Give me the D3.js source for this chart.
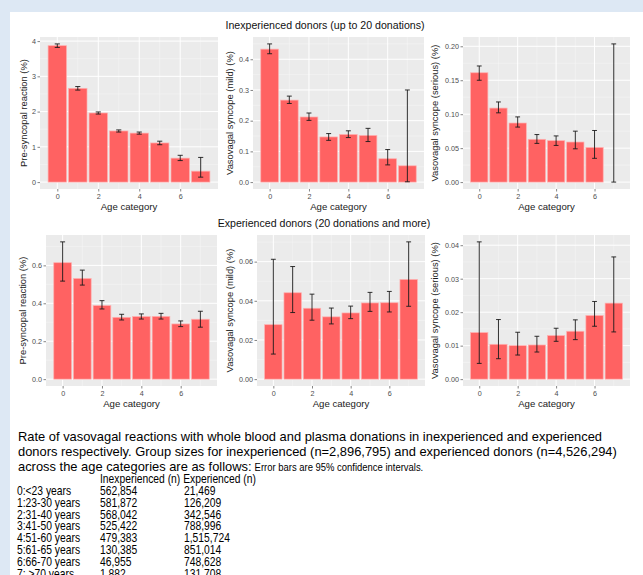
<!DOCTYPE html>
<html>
<head>
<meta charset="utf-8">
<script src="https://cdn.jsdelivr.net/npm/d3@7"></script>
<style>
  html, body { margin: 0; padding: 0; background: #dde8f4; }
  svg { display: block; }
</style>
</head>
<body>
<svg id="fig" width="643" height="575"></svg>
<script>
// Age categories (0 = <23 years ... 7 = >70 years) and axis ticks
const ageCategories = [0, 1, 2, 3, 4, 5, 6, 7];
const xTickValues = [0, 2, 4, 6];

// Inexperienced donors: rate (%) with 95% CI bounds
const inexpPreRate = [3.87, 2.66, 1.96, 1.45, 1.39, 1.11, 0.68, 0.31];
const inexpPreLow  = [3.82, 2.61, 1.93, 1.42, 1.36, 1.06, 0.61, 0.14];
const inexpPreHigh = [3.92, 2.71, 1.99, 1.48, 1.42, 1.16, 0.76, 0.70];

const inexpMildRate = [0.433, 0.267, 0.212, 0.147, 0.155, 0.152, 0.076, 0.053];
const inexpMildLow  = [0.418, 0.256, 0.201, 0.136, 0.145, 0.132, 0.056, 0.001];
const inexpMildHigh = [0.450, 0.280, 0.225, 0.158, 0.167, 0.175, 0.106, 0.300];

const inexpSeriousRate = [0.161, 0.109, 0.087, 0.063, 0.061, 0.059, 0.051, 0.000];
const inexpSeriousLow  = [0.150, 0.102, 0.081, 0.057, 0.054, 0.049, 0.035, 0.000];
const inexpSeriousHigh = [0.171, 0.118, 0.096, 0.070, 0.068, 0.075, 0.076, 0.2035];

// Experienced donors: rate (%) with 95% CI bounds
const expPreRate = [0.614, 0.531, 0.388, 0.326, 0.330, 0.331, 0.291, 0.316];
const expPreLow  = [0.517, 0.496, 0.370, 0.312, 0.317, 0.317, 0.277, 0.274];
const expPreHigh = [0.724, 0.575, 0.414, 0.342, 0.344, 0.347, 0.307, 0.358];

const expMildRate = [0.0278, 0.0441, 0.0362, 0.0318, 0.0338, 0.0389, 0.0390, 0.0509];
const expMildLow  = [0.0128, 0.0340, 0.0301, 0.0282, 0.0309, 0.0346, 0.0343, 0.0372];
const expMildHigh = [0.0612, 0.0575, 0.0434, 0.0363, 0.0373, 0.0443, 0.0448, 0.0701];

const expSeriousRate = [0.0139, 0.0104, 0.0100, 0.0102, 0.0130, 0.0143, 0.0190, 0.0227];
const expSeriousLow  = [0.0047, 0.0061, 0.0072, 0.0081, 0.0113, 0.0118, 0.0158, 0.0141];
const expSeriousHigh = [0.0410, 0.0178, 0.0140, 0.0128, 0.0152, 0.0177, 0.0232, 0.0365];

// Y tick labels per panel
const preInexpTicks = ["0", "1", "2", "3", "4"];
const mildInexpTicks = ["0.0", "0.1", "0.2", "0.3", "0.4"];
const seriousInexpTicks = ["0.00", "0.05", "0.10", "0.15", "0.20"];
const preExpTicks = ["0.0", "0.2", "0.4", "0.6"];
const mildExpTicks = ["0.00", "0.02", "0.04", "0.06"];
const seriousExpTicks = ["0.00", "0.01", "0.02", "0.03", "0.04"];

// Caption and group sizes table
const captionLines = [
  "Rate of vasovagal reactions with whole blood and plasma donations in inexperienced and experienced",
  "donors respectively. Group sizes for inexperienced (n=2,896,795) and experienced donors (n=4,526,294)",
  "across the age categories are as follows:"
];
const captionNote = "Error bars are 95% confidence intervals.";
const tableHeader = ["Inexperienced (n)", "Experienced (n)"];
const ageLabels = ["0:<23 years", "1:23-30 years", "2:31-40 years", "3:41-50 years",
                   "4:51-60 years", "5:61-65 years", "6:66-70 years", "7: >70 years"];
const inexpCounts = ["562,854", "581,872", "568,042", "525,422", "479,383", "130,385", "46,955", "1,882"];
const expCounts = ["21,469", "126,209", "342,546", "788,996", "1,515,724", "851,014", "748,628", "131,708"];

const svg = d3.select("#fig");
const sans = "'Liberation Sans', Arial, sans-serif";
const condense = 0.86; // horizontal squeeze for the narrow table type

// white page
svg.append("rect").attr("x", 10).attr("y", 12).attr("width", 633).attr("height", 563).attr("fill", "#ffffff");

const panels = [
  { x0: 40,  x1: 218, y0: 37,  y1: 189, rate: inexpPreRate, lo: inexpPreLow, hi: inexpPreHigh, ticks: preInexpTicks, title: "Pre-syncopal reaction (%)", titleX: 24 },
  { x0: 253, x1: 424, y0: 37,  y1: 189, rate: inexpMildRate, lo: inexpMildLow, hi: inexpMildHigh, ticks: mildInexpTicks, title: "Vasovagal syncope (mild) (%)", titleX: 230 },
  { x0: 463, x1: 630, y0: 37,  y1: 189, rate: inexpSeriousRate, lo: inexpSeriousLow, hi: inexpSeriousHigh, ticks: seriousInexpTicks, title: "Vasovagal syncope (serious) (%)", titleX: 435 },
  { x0: 46,  x1: 217, y0: 235, y1: 386, rate: expPreRate, lo: expPreLow, hi: expPreHigh, ticks: preExpTicks, title: "Pre-syncopal reaction (%)", titleX: 23 },
  { x0: 257, x1: 425, y0: 235, y1: 386, rate: expMildRate, lo: expMildLow, hi: expMildHigh, ticks: mildExpTicks, title: "Vasovagal syncope (mild) (%)", titleX: 230 },
  { x0: 463, x1: 630, y0: 235, y1: 386, rate: expSeriousRate, lo: expSeriousLow, hi: expSeriousHigh, ticks: seriousExpTicks, title: "Vasovagal syncope (serious) (%)", titleX: 435 }
];

function drawPanel(p) {
  const g = svg.append("g");
  const barW = 0.9, capW = 0.25;
  // continuous x with 5% expansion around the bar extents
  const xmin = -barW / 2, xmax = 7 + barW / 2, xpad = (xmax - xmin) * 0.05;
  const x = d3.scaleLinear().domain([xmin - xpad, xmax + xpad]).range([p.x0, p.x1]);
  const ymax = d3.max(p.hi), ymin = 0, ypad = (ymax - ymin) * 0.05;
  const y = d3.scaleLinear().domain([ymin - ypad, ymax + ypad]).range([p.y1, p.y0]);

  const tickNums = p.ticks.map(Number);
  const step = tickNums[1] - tickNums[0];
  const yMinor = [];
  for (let v = tickNums[0] - step / 2; v <= y.domain()[1]; v += step) {
    if (v >= y.domain()[0]) yMinor.push(v);
  }
  const xMinor = [1, 3, 5, 7];

  g.append("rect").attr("x", p.x0).attr("y", p.y0).attr("width", p.x1 - p.x0).attr("height", p.y1 - p.y0).attr("fill", "#ebebeb");

  // grid
  g.selectAll(".ymin").data(yMinor).join("line")
    .attr("x1", p.x0).attr("x2", p.x1).attr("y1", d => y(d)).attr("y2", d => y(d))
    .attr("stroke", "#f7f7f7").attr("stroke-width", 0.5);
  g.selectAll(".xmin").data(xMinor).join("line")
    .attr("y1", p.y0).attr("y2", p.y1).attr("x1", d => x(d)).attr("x2", d => x(d))
    .attr("stroke", "#f7f7f7").attr("stroke-width", 0.5);
  g.selectAll(".ymaj").data(tickNums).join("line")
    .attr("x1", p.x0).attr("x2", p.x1).attr("y1", d => y(d)).attr("y2", d => y(d))
    .attr("stroke", "#ffffff").attr("stroke-width", 1);
  g.selectAll(".xmaj").data(xTickValues).join("line")
    .attr("y1", p.y0).attr("y2", p.y1).attr("x1", d => x(d)).attr("x2", d => x(d))
    .attr("stroke", "#ffffff").attr("stroke-width", 1);

  // bars
  g.selectAll(".bar").data(ageCategories).join("rect")
    .attr("x", i => x(i - barW / 2)).attr("width", x(barW) - x(0))
    .attr("y", i => y(p.rate[i])).attr("height", i => y(0) - y(p.rate[i]))
    .attr("fill", "#ff6262").attr("stroke", "#ffb0b0").attr("stroke-width", 0.7);

  // error bars
  const eb = g.selectAll(".eb").data(ageCategories).join("g").attr("stroke", "#1a1a1a").attr("stroke-width", 0.9);
  eb.append("line").attr("x1", i => x(i)).attr("x2", i => x(i)).attr("y1", i => y(p.lo[i])).attr("y2", i => y(p.hi[i]));
  eb.append("line").attr("x1", i => x(i - capW / 2)).attr("x2", i => x(i + capW / 2)).attr("y1", i => y(p.lo[i])).attr("y2", i => y(p.lo[i]));
  eb.append("line").attr("x1", i => x(i - capW / 2)).attr("x2", i => x(i + capW / 2)).attr("y1", i => y(p.hi[i])).attr("y2", i => y(p.hi[i]));

  // axes
  const yAxis = d3.axisLeft(y).tickValues(tickNums).tickFormat((d, i) => p.ticks[i]).tickSize(2.5).tickPadding(1.5);
  const ya = g.append("g").attr("transform", `translate(${p.x0},0)`).call(yAxis);
  const xAxis = d3.axisBottom(x).tickValues(xTickValues).tickFormat(d3.format("d")).tickSize(2.5).tickPadding(2);
  const xa = g.append("g").attr("transform", `translate(0,${p.y1})`).call(xAxis);
  [ya, xa].forEach(a => {
    a.select(".domain").remove();
    a.selectAll(".tick line").attr("stroke", "#333333").attr("stroke-width", 0.6);
    a.selectAll(".tick text").attr("fill", "#4d4d4d").style("font-family", sans).style("font-size", "7.2px");
  });

  g.append("text").attr("x", (p.x0 + p.x1) / 2).attr("y", p.y1 + 21)
    .attr("text-anchor", "middle").style("font-family", sans).style("font-size", "9.6px").attr("fill", "#1a1a1a")
    .text("Age category");
  g.append("text").attr("transform", `translate(${p.titleX},${(p.y0 + p.y1) / 2}) rotate(-90)`)
    .attr("text-anchor", "middle").attr("dy", "0.35em").style("font-family", sans).style("font-size", "9.4px").attr("fill", "#1a1a1a")
    .text(p.title);
}

panels.forEach(drawPanel);

// group titles
svg.append("text").attr("x", 325).attr("y", 28.5).attr("text-anchor", "middle")
  .style("font-family", sans).style("font-size", "10.6px").attr("fill", "#111").text("Inexperienced donors (up to 20 donations)");
svg.append("text").attr("x", 324).attr("y", 226.5).attr("text-anchor", "middle")
  .style("font-family", sans).style("font-size", "10.6px").attr("fill", "#111").text("Experienced donors (20 donations and more)");

// caption
const cap = svg.append("g").style("font-family", sans).attr("fill", "#000");
let lastLine;
captionLines.forEach((line, i) => {
  lastLine = cap.append("text").attr("x", 18).attr("y", 441 + i * 15).style("font-size", "12.9px").text(line);
});
const noteX = 18 + lastLine.node().getComputedTextLength() + 3;
cap.append("text").attr("transform", `translate(${noteX},471) scale(${condense},1)`)
  .style("font-size", "11px").text(captionNote);

// group sizes table (condensed type)
const tbl = svg.append("g").attr("transform", `scale(${condense},1)`)
  .style("font-family", sans).style("font-size", "12px").attr("fill", "#000");
tbl.append("text").attr("x", 100 / condense).attr("y", 483).text(tableHeader[0] + " " + tableHeader[1]);
ageLabels.forEach((lab, i) => {
  const yy = 495 + i * 11.8;
  tbl.append("text").attr("x", 17 / condense).attr("y", yy).text(lab);
  tbl.append("text").attr("x", 100 / condense).attr("y", yy).text(inexpCounts[i]);
  tbl.append("text").attr("x", 184 / condense).attr("y", yy).text(expCounts[i]);
});
</script>
</body>
</html>
